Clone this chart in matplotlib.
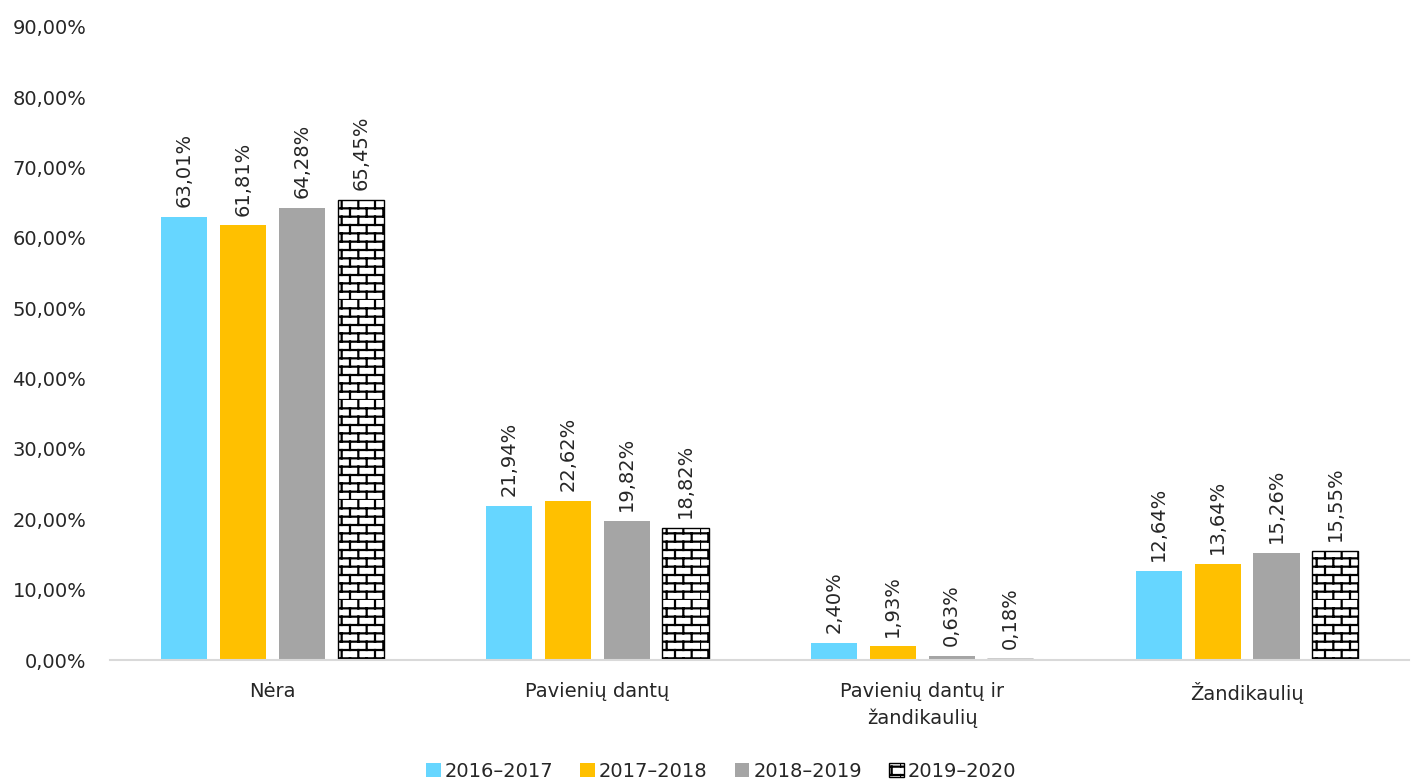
import warnings
warnings.filterwarnings("ignore")
import numpy as np
import matplotlib
matplotlib.use("Agg")
import matplotlib.pyplot as plt
from matplotlib import hatch as mhatch
from matplotlib.path import Path
from matplotlib.ticker import FuncFormatter

categories = ["Nėra", "Pavienių dantų", "Pavienių dantų ir\nžandikaulių", "Žandikaulių"]
series_names = ["2016–2017", "2017–2018", "2018–2019", "2019–2020"]
v2016 = [63.01, 21.94, 2.40, 12.64]
v2017 = [61.81, 22.62, 1.93, 13.64]
v2018 = [64.28, 19.82, 0.63, 15.26]
v2019 = [65.45, 18.82, 0.18, 15.55]
yticks = [0, 10, 20, 30, 40, 50, 60, 70, 80, 90]


class BrickHatch(mhatch.HatchPatternBase):
    def __init__(self, hatch, density):
        self.on = 'B' in hatch
        self.rows = 12
        self.cols = 6
        if self.on:
            self.num_vertices = self.rows * 2 + self.rows * self.cols * 2
        else:
            self.num_vertices = 0

    def set_vertices_and_codes(self, vertices, codes):
        i = 0
        for k in range(self.rows):
            y = k / self.rows
            vertices[i] = (0.0, y); codes[i] = Path.MOVETO; i += 1
            vertices[i] = (1.0, y); codes[i] = Path.LINETO; i += 1
        for k in range(self.rows):
            y0 = k / self.rows
            y1 = (k + 1) / self.rows
            off = 0.5 if k % 2 else 0.0
            for j in range(self.cols):
                x = (j + off) / self.cols
                vertices[i] = (x, y0); codes[i] = Path.MOVETO; i += 1
                vertices[i] = (x, y1); codes[i] = Path.LINETO; i += 1


mhatch._hatch_types.append(BrickHatch)

plt.rcParams['font.family'] = ['DejaVu Sans']
plt.rcParams['hatch.linewidth'] = 1.6
FS = 14
TXT = "#262626"

fig = plt.figure(figsize=(14.14, 7.82), dpi=100)
ax = fig.add_axes([0.0778, 0.156, 0.919, 0.8095])

colors = ["#66D6FF", "#FFC000", "#A5A5A5", "white"]
data = [v2016, v2017, v2018, v2019]
x = np.arange(len(categories))
pitch = 0.181
width = 0.142
offsets = (np.arange(4) - 1.5) * pitch

for si, (vals, col, name) in enumerate(zip(data, colors, series_names)):
    if si == 3:
        bars = ax.bar(x + offsets[si], vals, width, color="white", edgecolor="black",
                      linewidth=1.0, hatch='B', label=name)
    else:
        bars = ax.bar(x + offsets[si], vals, width, color=col, label=name)
    for b, v in zip(bars, vals):
        ax.annotate(f"{v:.2f}%".replace('.', ','),
                    (b.get_x() + b.get_width() / 2, b.get_height()),
                    xytext=(0, 7), textcoords="offset points",
                    rotation=90, ha="center", va="bottom", fontsize=FS, color=TXT)

ax.set_xlim(-0.5, 3.5)
ax.set_ylim(0, 90)
ax.set_yticks(yticks)
ax.yaxis.set_major_formatter(FuncFormatter(lambda v, p: f"{v:.2f}%".replace('.', ',')))
ax.set_xticks(x)
ax.set_xticklabels(categories, fontsize=FS, linespacing=1.45)
ax.tick_params(axis='both', length=0, labelsize=FS, colors=TXT)
ax.tick_params(axis='x', pad=16)
ax.tick_params(axis='y', pad=17)
for s in ['top', 'right', 'left']:
    ax.spines[s].set_visible(False)
ax.spines['bottom'].set_color("#D9D9D9")
ax.spines['bottom'].set_linewidth(1.5)

leg = fig.legend(loc='center', bbox_to_anchor=(0.51, 0.014), ncol=4, frameon=False,
                 fontsize=FS, handlelength=0.75, handleheight=0.75, handletextpad=0.2,
                 columnspacing=1.4)
for t in leg.get_texts():
    t.set_color(TXT)

fig.savefig("out.png", dpi=100)
